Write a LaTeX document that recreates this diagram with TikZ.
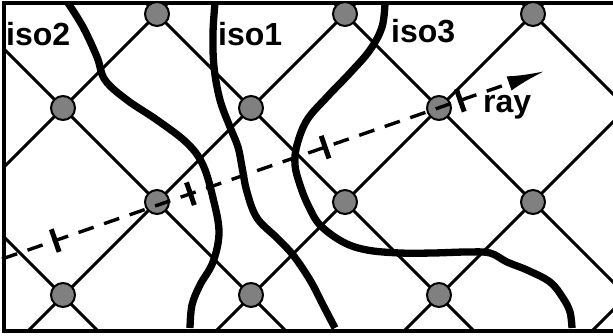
\documentclass[tikz,border=0pt]{standalone}
\usepackage{fontspec}
\setmainfont{Liberation Sans}
\usetikzlibrary{arrows.meta,calc}
\definecolor{dotgray}{RGB}{128,128,128}
\tikzset{
  gridline/.style={line width=3pt},
  frameline/.style={line width=3.4pt},
  isoline/.style={line width=7.3pt},
  dot/.style={circle,draw=black,line width=2pt,fill=dotgray,minimum size=24pt,inner sep=0pt},
  raystyle/.style={line width=3.4pt,dash pattern=on 16pt off 11pt,-{Latex[length=38pt,width=15pt]}},
  tickmark/.style={line width=5pt},
  lab/.style={font=\fontsize{32}{32}\selectfont\bfseries,inner sep=0pt,anchor=base west}
}
\begin{document}
\begin{tikzpicture}[x=1pt,y=-1pt]
\useasboundingbox (0,0) rectangle (613,335);
% grid
\begin{scope}
\clip (4,3) rectangle (613,331);
\foreach \c in {-233,-45,143,331,519,707}{
  \draw[gridline] (\c-100,-100) -- (\c+450,450);
}
\foreach \s in {-17,171,359,547,735,923}{
  \draw[gridline] (\s+100,-100) -- (\s-450,450);
}
\end{scope}
% frame
\draw[frameline] (614,3) -- (4,3) -- (4,331) -- (614,331);
% iso curves
\draw[isoline] plot[smooth,tension=0.6] coordinates {(68,3) (83,27) (97,57) (105,80) (127,100) (157,120) (187,143) (203,165) (213,198) (219,232) (213,262) (200,285) (192,305) (190,328)};
\draw[isoline] plot[smooth,tension=0.6] coordinates {(215,3) (213,33) (214,67) (220,100) (230,127) (238,147) (242,167) (247,192) (257,218) (277,238) (293,255) (310,280) (323,305) (335,328)};
\draw[isoline] plot[smooth,tension=0.6] coordinates {(385,3) (382,27) (370,50) (350,73) (327,97) (307,120) (297,145) (295,165) (300,185) (308,205) (320,225) (343,242) (367,250) (400,253) (433,253) (467,252) (490,253) (507,262) (527,270) (550,282) (563,298) (570,312) (572,328)};
% nodes
\node[dot] (n1) at (157,14) {};
\node[dot] (n2) at (345,14) {};
\node[dot] (n3) at (533,14) {};
\node[dot] (n4) at (63,108) {};
\node[dot] (n5) at (251,108) {};
\node[dot] (n6) at (439,108) {};
\node[dot] (n7) at (157,202) {};
\node[dot] (n8) at (345,202) {};
\node[dot] (n9) at (533,202) {};
\node[dot] (n10) at (63,295) {};
\node[dot] (n11) at (251,295) {};
\node[dot] (n12) at (439,295) {};
% ray
\coordinate (rs) at (2,259);
\coordinate (re) at (545,71);
\draw[raystyle] (rs) -- (re);
\foreach \t/\n in {0.098/t1,0.347/t2,0.595/t3,0.844/t4}{
  \coordinate (\n) at ($(rs)!\t!(re)$);
  \draw[tickmark] ($(\n)!12pt!90:(re)$) -- ($(\n)!12pt!-90:(re)$);
}
% labels
\node[lab] (l2) at (6,45) {iso2};
\node[lab] (l1) at (218,45) {iso1};
\node[lab] (l3) at (391,42) {iso3};
\node[lab] (lr) at (483,112) {ray};
\end{tikzpicture}
\end{document}
